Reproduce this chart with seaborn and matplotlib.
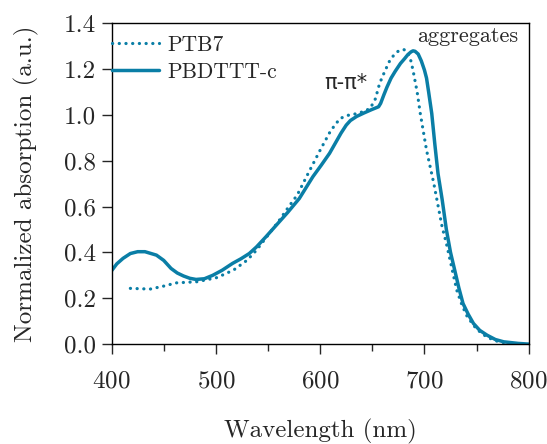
import numpy as np
import pandas as pd
import matplotlib
matplotlib.use("Agg")
import matplotlib.pyplot as plt
import seaborn as sns

# PBDTTT-c (solid)
wl_pbdttt = [400, 405, 411, 418, 425, 432, 443, 450, 457, 463, 469, 475, 481, 489, 497, 506, 516, 524, 532, 539,
             548, 558, 569, 580, 593, 601, 609, 615, 620, 625, 629, 635, 642, 649, 656, 658, 661, 664, 668, 672,
             677, 681, 684, 687, 689, 691, 694, 697, 700, 702, 704, 707, 710, 713, 717, 721, 725, 729, 733, 737,
             742, 747, 753, 760, 768, 776, 790, 800]
ab_pbdttt = [0.32, 0.35, 0.374, 0.395, 0.403, 0.403, 0.388, 0.365, 0.33, 0.31, 0.297, 0.287, 0.282, 0.285, 0.30, 0.322,
             0.352, 0.372, 0.395, 0.424, 0.468, 0.519, 0.575, 0.635, 0.73, 0.78, 0.832, 0.88, 0.92, 0.955, 0.975, 0.993,
             1.008, 1.022, 1.035, 1.05, 1.086, 1.12, 1.16, 1.19, 1.224, 1.245, 1.262, 1.274, 1.279, 1.277, 1.265, 1.235,
             1.195, 1.16, 1.10, 1.006, 0.87, 0.744, 0.63, 0.50, 0.40, 0.323, 0.245, 0.177, 0.13, 0.09, 0.06, 0.039,
             0.02, 0.01, 0.003, 0.0]

# PTB7 (dotted)
wl_ptb7 = [418, 437, 450, 462, 482, 501, 517, 530, 539, 550, 561, 570, 578, 588, 600, 610, 619, 627,
           635, 642, 648, 653, 657, 662, 667, 671, 674, 677, 680, 683, 685, 687, 689, 693, 696, 702, 709, 717, 721, 726,
           731, 736, 741, 750, 760, 770, 780]
ab_ptb7 = [0.243, 0.24, 0.253, 0.267, 0.272, 0.29, 0.323, 0.366, 0.41, 0.475, 0.541, 0.60, 0.65, 0.74, 0.846, 0.93, 0.984,
           0.998, 1.005, 1.015, 1.028, 1.07, 1.137, 1.19, 1.239, 1.262, 1.275, 1.282, 1.285, 1.278, 1.26, 1.235, 1.195,
           1.10, 1.006, 0.846, 0.70, 0.51, 0.44, 0.337, 0.235, 0.17, 0.12, 0.065, 0.03, 0.012, 0.003]

color = "#0a7ea6"

sns.set_theme(style="ticks")
plt.rcParams["font.family"] = ["serif"]
plt.rcParams["font.serif"] = ["cmr10", "DejaVu Serif"]
plt.rcParams["mathtext.fontset"] = "cm"
plt.rcParams["axes.formatter.use_mathtext"] = True

fig = plt.figure(figsize=(5.47, 4.44), dpi=100)
ax = fig.add_axes([0.204, 0.225, 0.7626, 0.723])

df_ptb7 = pd.DataFrame({"wl": wl_ptb7, "ab": ab_ptb7})
df_pbd = pd.DataFrame({"wl": wl_pbdttt, "ab": ab_pbdttt})

sns.lineplot(data=df_ptb7, x="wl", y="ab", ax=ax, color=color, linewidth=2.3,
             linestyle=(0, (0.05, 2.05)), dash_capstyle="round", label="PTB7")
sns.lineplot(data=df_pbd, x="wl", y="ab", ax=ax, color=color, linewidth=2.5,
             label="PBDTTT-c")

ax.set_xlim(400, 800)
ax.set_ylim(0, 1.4)
ax.set_xticks([400, 500, 600, 700, 800])
ax.set_xticks([450, 550, 650, 750], minor=True)
ax.set_yticks(np.arange(0, 1.41, 0.2))
ax.set_yticklabels([f"{v:.1f}" for v in np.arange(0, 1.41, 0.2)])
ax.tick_params(axis="both", which="major", labelsize=18, length=7, width=1, direction="out")
ax.tick_params(axis="x", which="major", pad=12)
ax.tick_params(axis="y", which="major", pad=4)
ax.tick_params(axis="x", which="minor", length=5, width=1, direction="out")
ax.set_xlabel("Wavelength (nm)", fontsize=18, labelpad=19)
ax.set_ylabel("Normalized absorption (a.u.)", fontsize=18, labelpad=18)
for s in ax.spines.values():
    s.set_linewidth(1.0)
    s.set_color("black")

leg = ax.legend(loc="upper left", frameon=False, fontsize=15.5, handlelength=2.2,
                borderaxespad=0.0, borderpad=0.2, labelspacing=0.35, handletextpad=0.4,
                bbox_to_anchor=(-0.01, 0.975))

ax.text(0.975, 0.99, "aggregates", transform=ax.transAxes, ha="right", va="top", fontsize=16)
ax.text(625, 1.14, "π-π*", ha="center", va="center", fontsize=15,
        family=["DejaVu Sans"])

fig.savefig("out.png", dpi=100)
